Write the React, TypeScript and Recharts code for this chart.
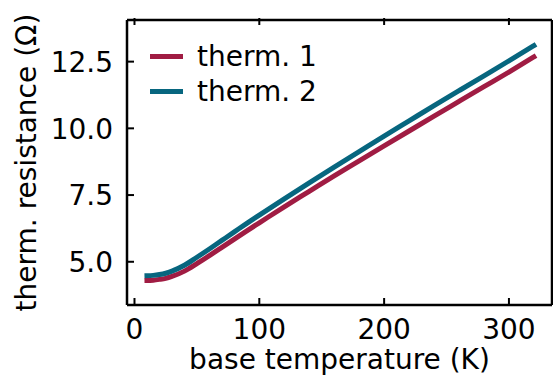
import React from 'react';
import { LineChart, Line, XAxis, YAxis, Legend } from 'recharts';

const temps = [10, 15, 20, 25, 30, 40, 50, 60, 70, 80, 90, 100, 120, 140, 160, 180, 200, 220, 240, 260, 280, 300, 320];
const therm1 = [4.3, 4.31, 4.34, 4.38, 4.45, 4.65, 4.93, 5.23, 5.54, 5.85, 6.16, 6.46, 7.06, 7.64, 8.22, 8.78, 9.34, 9.9, 10.46, 11.01, 11.56, 12.11, 12.68];
const therm2 = [4.48, 4.49, 4.52, 4.57, 4.65, 4.87, 5.17, 5.48, 5.8, 6.12, 6.44, 6.75, 7.36, 7.96, 8.55, 9.13, 9.71, 10.28, 10.85, 11.41, 11.97, 12.53, 13.1];
const seriesNames = ['therm. 1', 'therm. 2'];
const seriesColors = ['#A01C43', '#07667F'];
const xTicks = [0, 100, 200, 300];
const yTicks = [5, 7.5, 10, 12.5];
const xLabel = 'base temperature (K)';
const yLabel = 'therm. resistance (\u03A9)';

const data = temps.map((t, i) => ({ t, a: therm1[i], b: therm2[i] }));

const FONT = 'DejaVu Sans';
const FS = 28;
const TICK = 7;
const AXW = 2.5;

const BottomTick = (p: any) => (
  <g>
    <line x1={p.x} x2={p.x} y1={p.y} y2={p.y - TICK} stroke="#000" strokeWidth={2} />
    <text x={p.x} y={p.y + 34} textAnchor="middle" fontFamily={FONT} fontSize={FS} fill="#000">
      {p.payload.value}
    </text>
  </g>
);
const TopTick = (p: any) => (
  <line x1={p.x} x2={p.x} y1={p.y} y2={p.y + TICK} stroke="#000" strokeWidth={2} />
);
const LeftTick = (p: any) => (
  <g>
    <line x1={p.x} x2={p.x + TICK} y1={p.y} y2={p.y} stroke="#000" strokeWidth={2} />
    <text x={p.x - 14} y={p.y + 10.2} textAnchor="end" fontFamily={FONT} fontSize={FS} fill="#000">
      {p.payload.value.toFixed(1)}
    </text>
  </g>
);
const RightTick = (p: any) => (
  <line x1={p.x} x2={p.x - TICK} y1={p.y} y2={p.y} stroke="#000" strokeWidth={2} />
);

const renderLegend = () => (
  <div style={{ fontFamily: FONT, fontSize: FS, color: '#000' }}>
    {seriesNames.map((n, i) => (
      <div key={n} style={{ display: 'flex', alignItems: 'center', height: 35 }}>
        <div style={{ width: 33, height: 5, background: seriesColors[i], marginRight: 14 }} />
        <span style={{ lineHeight: '35px' }}>{n}</span>
      </div>
    ))}
  </div>
);

export default function App() {
  return (
    <div style={{ position: 'absolute', left: 0, top: 0, background: '#fff' }}>
      <LineChart width={553} height={376} data={data} margin={{ top: 19, right: 0, bottom: 0, left: 0 }}>
        <XAxis
          xAxisId="b"
          dataKey="t"
          type="number"
          domain={[-6, 334.5]}
          ticks={xTicks}
          height={71}
          tickSize={0}
          tickMargin={0}
          tickLine={false}
          tick={BottomTick}
          axisLine={{ stroke: '#000', strokeWidth: AXW }}
          label={{
            content: (props: any) => {
              const vb = props.viewBox;
              return (
                <text x={vb.x + vb.width / 2} y={369} textAnchor="middle" fontFamily={FONT} fontSize={FS} fill="#000">
                  {xLabel}
                </text>
              );
            },
          }}
        />
        <XAxis
          xAxisId="t"
          orientation="top"
          dataKey="t"
          type="number"
          domain={[-6, 334.5]}
          ticks={xTicks}
          height={1}
          tickSize={0}
          tickLine={false}
          tick={TopTick}
          axisLine={{ stroke: '#000', strokeWidth: AXW }}
        />
        <YAxis
          yAxisId="l"
          type="number"
          domain={[3.38, 14.06]}
          ticks={yTicks}
          width={127}
          tickSize={0}
          tickMargin={0}
          tickLine={false}
          tick={LeftTick}
          axisLine={{ stroke: '#000', strokeWidth: AXW }}
          label={{
            content: (props: any) => {
              const vb = props.viewBox;
              const cy = vb.y + vb.height / 2;
              return (
                <text x={36} y={cy} transform={`rotate(-90, 36, ${cy})`} textAnchor="middle" fontFamily={FONT} fontSize={FS} fill="#000">
                  {yLabel}
                </text>
              );
            },
          }}
        />
        <YAxis
          yAxisId="r"
          orientation="right"
          type="number"
          domain={[3.38, 14.06]}
          ticks={yTicks}
          width={1}
          tickSize={0}
          tickLine={false}
          tick={RightTick}
          axisLine={{ stroke: '#000', strokeWidth: AXW }}
        />
        <Legend
          layout="vertical"
          align="center"
          verticalAlign="middle"
          content={renderLegend}
          wrapperStyle={{ left: 150, top: 39, width: 'auto' }}
        />
        <Line xAxisId="b" yAxisId="l" dataKey="a" type="monotone" stroke={seriesColors[0]} strokeWidth={5} strokeLinecap="square" dot={false} isAnimationActive={false} name={seriesNames[0]} />
        <Line xAxisId="b" yAxisId="l" dataKey="b" type="monotone" stroke={seriesColors[1]} strokeWidth={5} strokeLinecap="square" dot={false} isAnimationActive={false} name={seriesNames[1]} />
      </LineChart>
    </div>
  );
}
